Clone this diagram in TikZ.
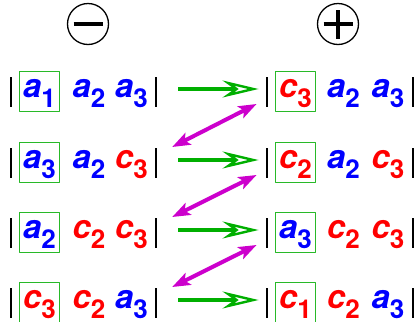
\documentclass[tikz,border=0pt]{standalone}
\usepackage{fontspec}
\setmainfont{TeX Gyre Heros}
\usetikzlibrary{arrows.meta,calc}
\definecolor{cola}{RGB}{0,0,255}
\definecolor{colc}{RGB}{255,0,0}
\definecolor{swapGreen}{RGB}{0,175,0}
\definecolor{boxGreen}{RGB}{40,185,40}
\definecolor{linkMagenta}{RGB}{204,0,204}
% one term: letter with its index
\newcommand{\term}[2]{\textcolor{col#1}{\fontsize{33}{33}\selectfont\bfseries\itshape #1\raisebox{-10pt}{\fontsize{26}{26}\selectfont\upshape #2}}}
\begin{document}
\begin{tikzpicture}[x=1pt,y=-1pt,line cap=round,line join=round,
	entry/.style={inner sep=0pt,minimum width=40pt,minimum height=40pt,text height=14pt,text depth=2pt},
	keybox/.style={entry,draw=boxGreen,line width=0.9pt},
	bar/.style={line width=1.6pt,line cap=butt},
	swap/.style={swapGreen,line width=4pt,line cap=butt,shorten <=26.5pt,shorten >=16.5pt,
		-{Stealth[open,length=36pt,width=17pt,inset=12pt,line width=2.4pt]}},
	link/.style={linkMagenta,line width=4pt,line cap=butt,
		{Stealth[length=18pt,width=13pt,inset=4pt]}-{Stealth[length=18pt,width=13pt,inset=4pt]}},
	sign/.style={circle,draw,line width=1.3pt,minimum size=41pt,inner sep=0pt},
	signbar/.style={line width=4pt,line cap=butt}]
	\useasboundingbox (0,0) rectangle (416,322);
	% the two signs
	\node[sign] (minus) at (88,24) {};
	\node[sign] (plus) at (338,24) {};
	\draw[signbar] ([xshift=-14.5pt]minus.center) -- ([xshift=14.5pt]minus.center);
	\draw[signbar] ([xshift=-14.5pt]plus.center) -- ([xshift=14.5pt]plus.center);
	\draw[signbar] ([yshift=-14.5pt]plus.center) -- ([yshift=14.5pt]plus.center);
	% rows: left terms, right terms
	\foreach \r/\yc/\p/\q/\s/\u/\v/\w in {1/91/a1/a2/a3/c3/a2/a3, 2/162/a3/a2/c3/c2/a2/c3,
			3/232/a2/c2/c3/a3/c2/c3, 4/302/c3/c2/a3/c1/c2/a3}{
		\node[keybox] (L\r-1) at (39.5,\yc) {\expandafter\term\p};
		\node[entry] (L\r-2) at (89,\yc) {\expandafter\term\q};
		\node[entry] (L\r-3) at (131.5,\yc) {\expandafter\term\s};
		\node[keybox] (R\r-1) at (295.5,\yc) {\expandafter\term\u};
		\node[entry] (R\r-2) at (343.5,\yc) {\expandafter\term\v};
		\node[entry] (R\r-3) at (388,\yc) {\expandafter\term\w};
		\draw[bar] ($(L\r-1.west)+(-8,-14)$) -- ++(0,30);
		\draw[bar] ($(L\r-3.east)+(4.5,-14)$) -- ++(0,30);
		\draw[bar] ($(R\r-1.west)+(-8,-14)$) -- ++(0,30);
		\draw[bar] ($(R\r-3.east)+(4.5,-14)$) -- ++(0,30);
		\draw[swap] ([yshift=2pt]L\r-3.east) -- ([yshift=2pt]R\r-1.west);
	}
	% links between rows
	\foreach \k/\n in {1/2,2/3,3/4}
		\draw[link] ($(R\k-1.west)+(-18.5,13)$) -- ($(L\n-3.east)+(20.5,-15)$);
\end{tikzpicture}
\end{document}
